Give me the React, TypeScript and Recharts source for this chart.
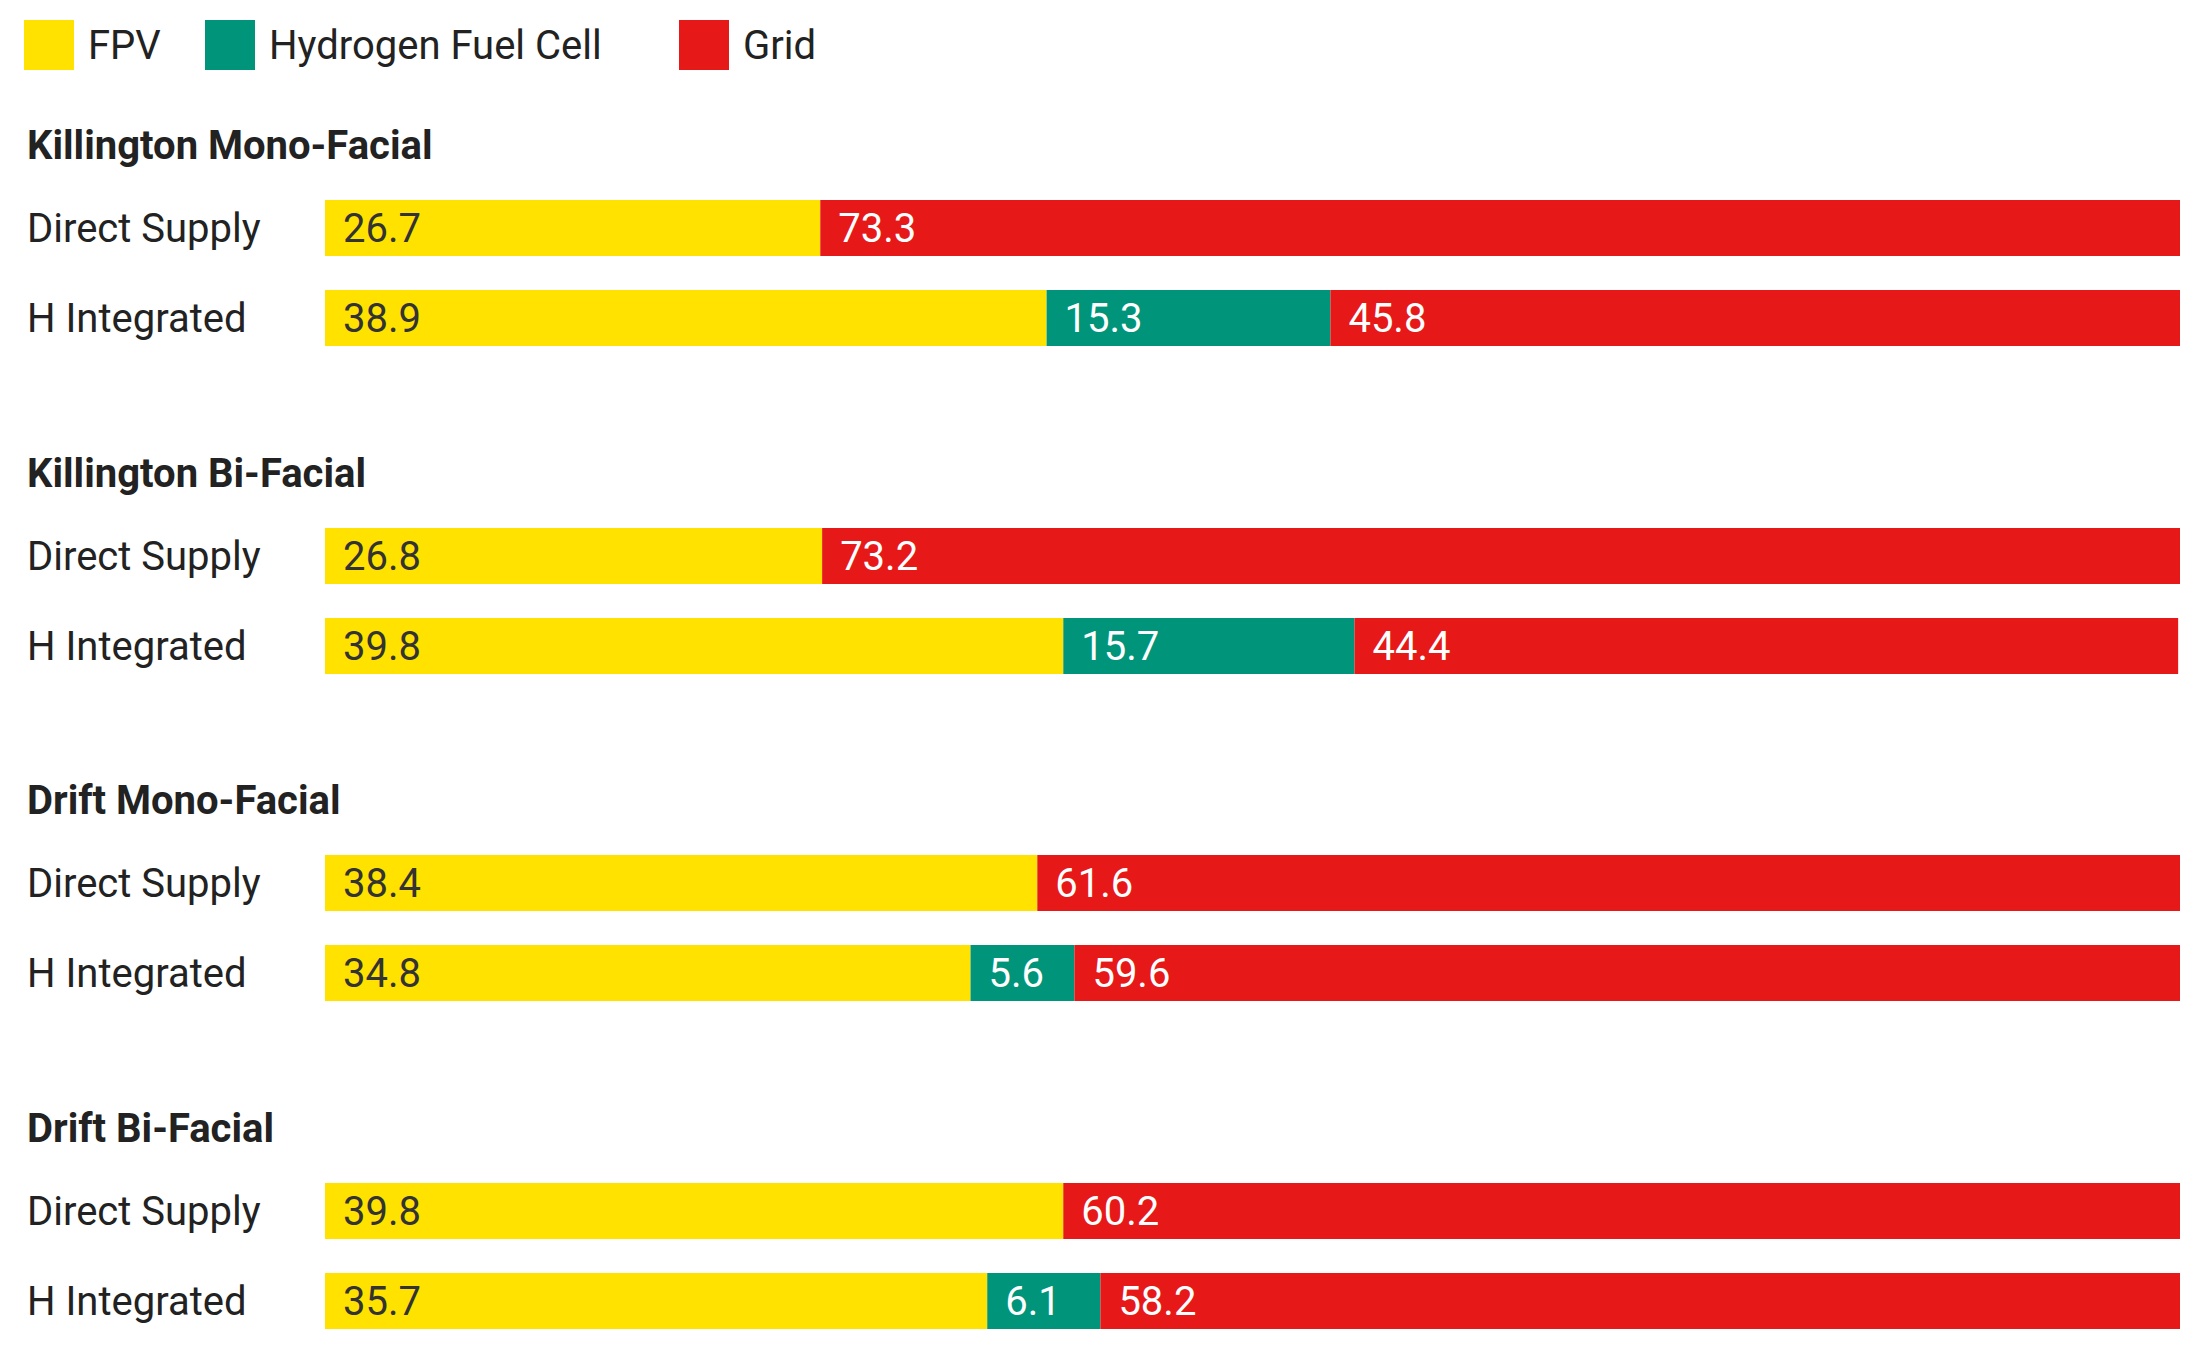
import { BarChart, Bar, XAxis, YAxis, LabelList } from 'recharts';

const groups = ['Killington Mono-Facial', 'Killington Bi-Facial', 'Drift Mono-Facial', 'Drift Bi-Facial'];
const scenarios = ['Direct Supply', 'H Integrated'];
const fpv = [[26.7, 38.9], [26.8, 39.8], [38.4, 34.8], [39.8, 35.7]];
const hydrogen = [[null, 15.3], [null, 15.7], [null, 5.6], [null, 6.1]];
const grid = [[73.3, 45.8], [73.2, 44.4], [61.6, 59.6], [60.2, 58.2]];

const COLORS = { fpv: '#FFE200', h: '#00957A', grid: '#E71818' };
const FONT = 'Roboto, sans-serif';

const Tick = (props: any) => (
  <text x={27} y={props.y} dy={14} fontSize={40} fill="#222" fontFamily={FONT} textAnchor="start">
    {props.payload.value}
  </text>
);

const legendItems = [
  { label: 'FPV', color: COLORS.fpv, x: 24 },
  { label: 'Hydrogen Fuel Cell', color: COLORS.h, x: 205 },
  { label: 'Grid', color: COLORS.grid, x: 679 },
];

export default function App() {
  return (
    <div style={{ position: 'absolute', left: 0, top: 0, width: 2200, height: 1363, background: '#fff', fontFamily: FONT }}>
      {legendItems.map((l) => (
        <div key={l.label} style={{ position: 'absolute', left: l.x, top: 20, display: 'flex', alignItems: 'center' }}>
          <div style={{ width: 50, height: 50, background: l.color }} />
          <span style={{ marginLeft: 14, fontSize: 40, color: '#222' }}>{l.label}</span>
        </div>
      ))}
      {groups.map((g, gi) => {
        const top = 183 + gi * 327.6;
        const data = scenarios.map((s, i) => ({
          name: s,
          fpv: fpv[gi][i],
          h: hydrogen[gi][i],
          grid: grid[gi][i],
        }));
        return (
          <div key={g}>
            <div style={{ position: 'absolute', left: 27, top: top - 62, fontSize: 40, fontWeight: 700, color: '#222', lineHeight: '50px' }}>
              {g}
            </div>
            <div style={{ position: 'absolute', left: 0, top }}>
              <BarChart width={2200} height={180} data={data} layout="vertical" margin={{ top: 0, right: 20, bottom: 0, left: 0 }} barCategoryGap={17}>
                <XAxis type="number" domain={[0, 100]} hide />
                <YAxis type="category" dataKey="name" width={325} axisLine={false} tickLine={false} tick={<Tick />} />
                <Bar dataKey="fpv" stackId="a" fill={COLORS.fpv} isAnimationActive={false}>
                  <LabelList dataKey="fpv" position="insideLeft" offset={18} fill="#333" fontSize={40} fontFamily={FONT} />
                </Bar>
                <Bar dataKey="h" stackId="a" fill={COLORS.h} isAnimationActive={false}>
                  <LabelList dataKey="h" position="insideLeft" offset={18} fill="#fff" fontSize={40} fontFamily={FONT} />
                </Bar>
                <Bar dataKey="grid" stackId="a" fill={COLORS.grid} isAnimationActive={false}>
                  <LabelList dataKey="grid" position="insideLeft" offset={18} fill="#fff" fontSize={40} fontFamily={FONT} />
                </Bar>
              </BarChart>
            </div>
          </div>
        );
      })}
    </div>
  );
}
